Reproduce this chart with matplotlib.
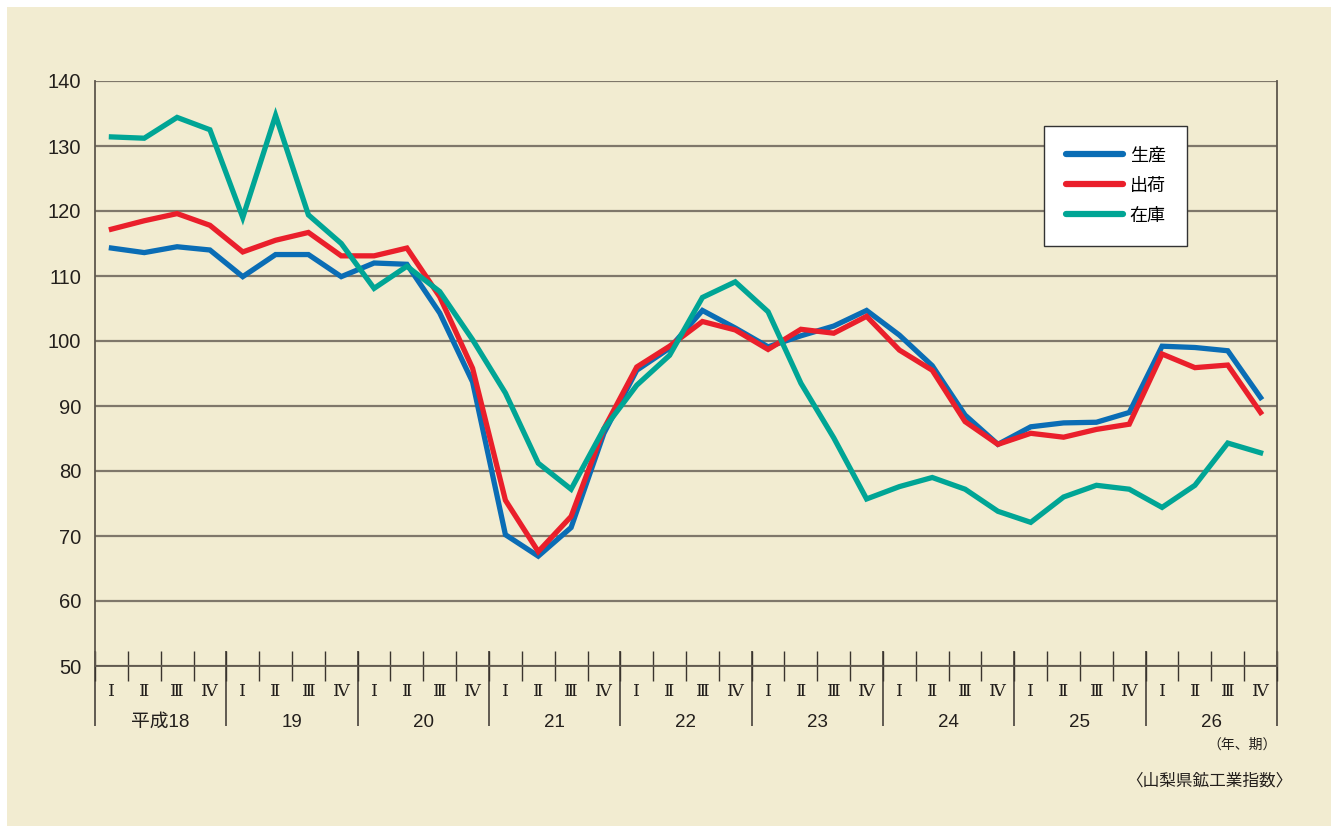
import matplotlib.pyplot as plt
from matplotlib.patches import Rectangle
from matplotlib.transforms import blended_transform_factory

plt.rcParams['font.family'] = ['Liberation Sans', 'Noto Sans CJK JP', 'DejaVu Sans']

# data
years = ['平成18', '19', '20', '21', '22', '23', '24', '25', '26']
quarters = ['Ⅰ', 'Ⅱ', 'Ⅲ', 'Ⅳ']
seisan = [114.3, 113.6, 114.5, 114.0,
          109.9, 113.3, 113.3, 109.9,
          112.0, 111.8, 104.3, 93.7,
          70.2, 66.9, 71.3, 85.8,
          95.5, 98.9, 104.7, 102.0,
          99.1, 100.8, 102.3, 104.7,
          100.9, 96.2, 88.6, 84.1,
          86.8, 87.4, 87.5, 89.0,
          99.2, 99.0, 98.5, 91.3]
shukka = [117.2, 118.5, 119.6, 117.8,
          113.7, 115.5, 116.7, 113.1,
          113.1, 114.3, 106.8, 95.8,
          75.5, 67.6, 73.0, 86.5,
          96.0, 99.2, 103.0, 101.7,
          98.7, 101.8, 101.2, 103.8,
          98.6, 95.5, 87.6, 84.1,
          85.8, 85.2, 86.4, 87.2,
          98.0, 95.9, 96.3, 89.0]
zaiko = [131.4, 131.2, 134.4, 132.5,
         119.0, 134.7, 119.4, 115.0,
         108.1, 111.5, 107.6, 100.2,
         92.0, 81.2, 77.2, 86.5,
         93.2, 97.8, 106.7, 109.1,
         104.5, 93.5, 85.1, 75.7,
         77.6, 79.0, 77.2, 73.8,
         72.1, 76.0, 77.8, 77.2,
         74.4, 77.8, 84.3, 82.8]
series_names = ['生産', '出荷', '在庫']

BG = '#f2ecd1'
GRID = '#7f776a'
colors = ['#0a6db5', '#ea1f2b', '#00a595']

W, H = 1338, 826
fig = plt.figure(figsize=(W / 100, H / 100), dpi=100)
fig.patch.set_facecolor('white')
fig.patches.append(Rectangle((7 / W, 0), (W - 14) / W, (H - 7) / H,
                             transform=fig.transFigure, facecolor=BG,
                             edgecolor='none', zorder=-10))

ax = fig.add_axes([95 / W, 1 - 666 / H, (1277 - 95) / W, (666 - 81) / H])
ax.set_facecolor(BG)

n = len(years) * 4
xs = [i + 0.5 for i in range(n)]
for vals, c, name in zip([seisan, shukka, zaiko], colors, series_names):
    ax.plot(xs, vals, color=c, lw=3.8, label=name, solid_joinstyle='miter', zorder=3)

ax.set_xlim(0, n)
ax.set_ylim(50, 140)
ax.set_yticks(range(50, 141, 10))
ax.yaxis.grid(True, color=GRID, lw=1.6)
ax.set_axisbelow(True)
ax.tick_params(axis='y', length=0, pad=10, labelsize=14.5, labelcolor='#231f1c')

ax.spines['top'].set_visible(False)
for s in ['left', 'right', 'bottom']:
    ax.spines[s].set_color('#5e574d')
    ax.spines[s].set_linewidth(1.3)

# quarter ticks
ax.set_xticks(range(0, n + 1))
ax.tick_params(axis='x', direction='inout', length=21, width=1.0, color='#3a342e',
               labelbottom=False)

# year separators
tr = blended_transform_factory(ax.transData, ax.transAxes)
ax.vlines(range(0, n + 1, 4), -60 / 585, 15 / 585, transform=tr, colors='#3a342e',
          lw=1.1, clip_on=False)

for i in range(n):
    ax.text(i + 0.5, -0.044, quarters[i % 4], transform=tr, ha='center', va='center',
            fontsize=12.5, family=['DejaVu Serif', 'Noto Sans CJK JP'], color='#231f1c')
for k, y in enumerate(years):
    ax.text(4 * k + 2, -0.097, y, transform=tr, ha='center', va='center',
            fontsize=13.5, color='#231f1c')

fig.text(1277 / W, 1 - 745 / H, '（年、期）', ha='right', va='center', fontsize=10,
         color='#231f1c')
fig.text(1292 / W, 1 - 781 / H, '〈山梨県鉱工業指数〉', ha='right', va='center',
         fontsize=12, color='#231f1c')

leg = ax.legend(loc='upper left', bbox_to_anchor=((1044 - 95) / 1182, (666 - 126) / 585),
                fontsize=13, handlelength=3.2, handletextpad=0.35,
                labelspacing=0.72, borderpad=1.2, borderaxespad=0, fancybox=False,
                framealpha=1, edgecolor='#333333')
leg.get_frame().set_linewidth(1.0)
for line in leg.get_lines():
    line.set_linewidth(4.5)
    line.set_solid_capstyle('round')

fig.savefig('out.png', dpi=100, facecolor='white')
